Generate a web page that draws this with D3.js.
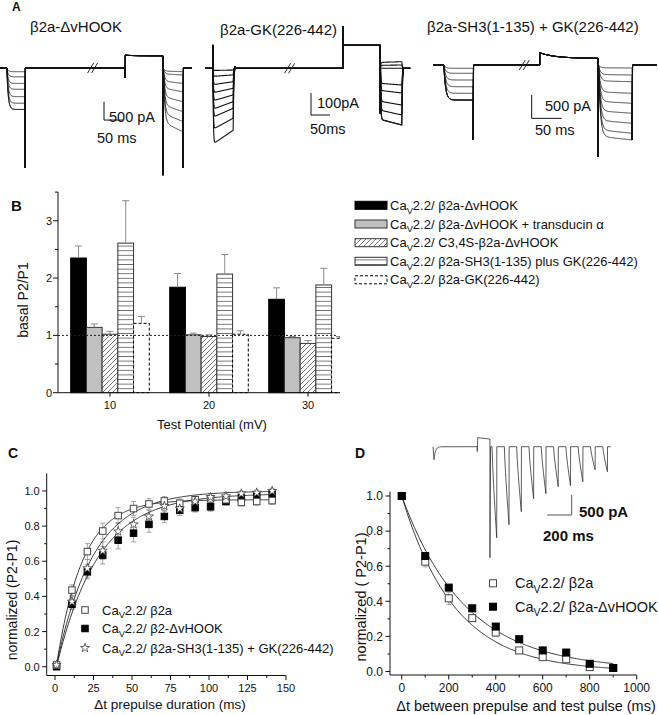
<!DOCTYPE html>
<html><head><meta charset="utf-8">
<script src="https://d3js.org/d3.v7.min.js"></script>
<style>
html,body{margin:0;padding:0;background:#fff;}
svg{display:block;}
</style></head>
<body>
<svg id="fig" width="658" height="715" xmlns="http://www.w3.org/2000/svg"></svg>
<script>
// ================= DATA =================
// ---- Panel A : example current families (pA, inward = positive) ----
const aTitles = ["β2a-ΔvHOOK", "β2a-GK(226-442)", "β2a-SH3(1-135) + GK(226-442)"];
const a1P1 = [100, 240, 420, 580, 780, 960, 1130];
const a1P2 = [100, 190, 420, 650, 920, 1190, 1460, 1740];
const a2P1 = [8, 30, 61, 91, 121, 152, 182, 227, 282];
const a2P2 = [-30, -15, 0, 76, 112, 167, 212, 258];
const a3P1 = [71, 178, 321, 465, 606, 750];
const a3P2 = [64, 214, 358, 606, 820, 1034, 1248, 1462, 1606];
// protocol times (ms): p1On, p1Off, break, preOn, preOff, p2Off, end
const a1Times = [18, 66, 245, 329, 429, 482, 505];
const a2Times = [21, 74, 224, 363, 461, 518, 540];
const a3Times = [18, 67, 153, 178, 275, 332, 373];
// transients (pA): p1 tail, prepulse start, prepulse end, p2 onset, p2 tail, prepulse onset spike
const a1Trans = [2720, -350, -330, 2920, 2720, 270];
const a2Trans = [0, -105, -105, 203, 0, -190];
const a3Trans = [1600, -263, -143, 1960, 1600, -263];
// scale bars [pA, ms]
const aScaleBars = [[500, 50], [100, 50], [500, 50]];
const aScaleLabels = [["500 pA", "50 ms"], ["100pA", "50ms"], ["500 pA", "50 ms"]];

// ---- Panel B ----
const bCategories = [10, 20, 30];
const bLegend = ["Ca_V2.2/ β2a-ΔvHOOK", "Ca_V2.2/ β2a-ΔvHOOK + transducin α", "Ca_V2.2/ C3,4S-β2a-ΔvHOOK",
                 "Ca_V2.2/ β2a-SH3(1-135) plus GK(226-442)", "Ca_V2.2/ β2a-GK(226-442)"];
const bHook = [2.35, 1.84, 1.63];
const bHookErr = [0.21, 0.24, 0.20];
const bTrans = [1.14, 1.01, 0.96];
const bTransErr = [0.06, 0.03, 0.02];
const bC34S = [1.02, 0.98, 0.86];
const bC34SErr = [0.05, 0.03, 0.05];
const bSH3GK = [2.61, 2.07, 1.88];
const bSH3GKErr = [0.74, 0.34, 0.29];
const bGK = [1.21, 1.02, 0.95];
const bGKErr = [0.12, 0.06, 0.03];
const bYTicks = [0, 1, 2, 3];

// ---- Panel C ----
const cTimes = [1, 11, 21, 31, 41, 51, 61, 71, 81, 91, 101, 111, 121, 131, 141];
const cB2a = [0.01, 0.436, 0.655, 0.772, 0.86, 0.90, 0.926, 0.943, 0.93, 0.95, 0.955, 0.95, 0.935, 0.94, 0.945];
const cB2aErr = [0.01, 0.03, 0.045, 0.045, 0.045, 0.04, 0.03, 0.025, 0.025, 0.02, 0.02, 0.02, 0.02, 0.02, 0.02];
const cHook = [0.0, 0.355, 0.54, 0.635, 0.72, 0.76, 0.81, 0.855, 0.89, 0.905, 0.91, 0.94, 0.96, 0.975, 0.985];
const cHookErr = [0.01, 0.03, 0.04, 0.05, 0.05, 0.05, 0.045, 0.035, 0.03, 0.025, 0.025, 0.02, 0.02, 0.02, 0.02];
const cSH3 = [0.01, 0.37, 0.56, 0.66, 0.77, 0.81, 0.855, 0.915, 0.90, 0.94, 0.965, 0.97, 0.985, 0.99, 1.0];
const cSH3Err = [0.01, 0.03, 0.05, 0.05, 0.05, 0.04, 0.035, 0.03, 0.025, 0.02, 0.02, 0.02, 0.015, 0.015, 0.015];
// mono-exponential fits: [offset, amplitude, tau(ms)]
const cFitB2a = [0.01, 0.94, 17];
const cFitHook = [0.0, 0.985, 27];
const cFitSH3 = [0.01, 0.99, 24];
const cLegend = ["Ca_V2.2/ β2a", "Ca_V2.2/ β2-ΔvHOOK", "Ca_V2.2/ β2a-SH3(1-135) + GK(226-442)"];
const cXTicks = [0, 25, 50, 75, 100, 125, 150];
const cYTicks = [0, 0.2, 0.4, 0.6, 0.8, 1.0];

// ---- Panel D ----
const dTimes = [0, 100, 200, 300, 400, 500, 600, 700, 800, 900];
const dB2a = [1.0, 0.626, 0.417, 0.304, 0.222, 0.12, 0.082, 0.07, 0.025, 0.02];
const dB2aErr = [0.01, 0.03, 0.035, 0.015, 0.02, 0.01, 0.01, 0.01, 0.01, 0.01];
const dHook = [1.0, 0.658, 0.478, 0.36, 0.256, 0.184, 0.12, 0.108, 0.044, 0.02];
const dFitB2a = [0.0, 1.0, 225];
const dFitHook = [0.01, 0.99, 270];
const dLegend = ["Ca_V2.2/ β2a", "Ca_V2.2/ β2a-ΔvHOOK"];
const dXTicks = [0, 200, 400, 600, 800, 1000];
const dYTicks = [0, 0.2, 0.4, 0.6, 0.8, 1.0];
// inset: test-pulse tail amplitudes (pA) and timing (ms)
const insetTestPeaks = [2275, 1950, 1625, 1300, 1175, 1000, 975, 875, 575, 625];
const insetTimes = [0, 360, 463, 518, 100, 38]; // p1, preOn, preOff, first test, interval, test duration
const insetTrans = [325, -225, 2775];            // p1 peak, prepulse level, prepulse-end transient

// ================= DRAW =================
const svg = d3.select("#fig");
const FONT = '"Liberation Sans", Arial, Helvetica, sans-serif';
svg.append("rect").attr("width", 658).attr("height", 715).attr("fill", "#fff");

function label(g, x, y, s, size, o = {}) {
  const t = g.append("text").attr("x", x).attr("y", y)
    .attr("font-family", FONT).attr("font-size", size).attr("fill", o.fill || "#111");
  if (o.anchor) t.attr("text-anchor", o.anchor);
  if (o.weight) t.attr("font-weight", o.weight);
  if (o.rotate) t.attr("transform", `rotate(-90 ${x} ${y})`);
  const parts = s.split("_V");
  t.append("tspan").text(parts[0]);
  for (let i = 1; i < parts.length; i++) {
    t.append("tspan").attr("font-size", size * 0.72).attr("dy", size * 0.3).text("V");
    t.append("tspan").attr("dy", -size * 0.3).text(parts[i]);
  }
  return t;
}

// Panel letters
label(svg, 12, 11, "A", 12, { weight: "bold" });
label(svg, 11, 211, "B", 15, { weight: "bold" });
label(svg, 8, 458, "C", 14, { weight: "bold" });
label(svg, 355, 458, "D", 14, { weight: "bold" });

// ---------------- Panel A ----------------
const aGeom = [
  { x0: 0, pxms: 0.38, base: 68, pxpa: 0.0367, tau: 3.5, s1: 0, s2: 0.15, sw: 0.8, titleX: 30, titleY: 32 },
  { x0: 205, pxms: 0.38, base: 68.3, pxpa: 0.22, tau: 1.0, s1: -0.22, s2: 0.1, sw: 1.1, titleX: 220, titleY: 35 },
  { x0: 433, pxms: 0.6, base: 65, pxpa: 0.0467, tau: 3.0, s1: 0, s2: 0.05, sw: 0.8, titleX: 427, titleY: 32 }
];
const aData = [
  { P1: a1P1, P2: a1P2, T: a1Times, tr: a1Trans },
  { P1: a2P1, P2: a2P2, T: a2Times, tr: a2Trans },
  { P1: a3P1, P2: a3P2, T: a3Times, tr: a3Trans }
];
const aBars = [
  { vx: 104, vy0: 101.7, lx: 109, ly1: 121.5, lx2: 97, ly2: 143 },
  { vx: 311, vy0: 93, lx: 317, ly1: 108, lx2: 310, ly2: 134 },
  { vx: 531.7, vy0: 95, lx: 545, ly1: 111, lx2: 535, ly2: 135 }
];

function activation(L, tOn, tOff, tau, slope, step) {
  const pts = [];
  for (let t = tOn; t <= tOff + 1e-6; t += step) {
    const f = (t - tOn) / (tOff - tOn);
    const fac = 1 + slope * (f - 1);
    pts.push([t, L * fac * (1 - Math.exp(-(t - tOn) / tau))]);
  }
  return pts;
}

aData.forEach((d, gi) => {
  const G = aGeom[gi];
  const [p1On, p1Off, brk, preOn, preOff, p2Off, tEnd] = d.T;
  const xs = d3.scaleLinear().domain([0, 1]).range([G.x0, G.x0 + G.pxms]);
  const ys = d3.scaleLinear().domain([0, 1]).range([G.base, G.base + G.pxpa]);
  const line = d3.line().x(p => xs(p[0])).y(p => ys(p[1]));
  const g = svg.append("g");
  const n = Math.max(d.P1.length, d.P2.length);
  for (let k = 0; k < n; k++) {
    const L1 = d.P1[Math.min(k, d.P1.length - 1)];
    const L2 = d.P2[Math.min(k, d.P2.length - 1)];
    let pts = [[0, 0], [p1On, 0]];
    if (gi === 1) pts.push([p1On, -105], [p1On + 0.8, 0]);
    pts = pts.concat(activation(L1, p1On, p1Off, G.tau, G.s1, 0.5));
    if (d.tr[0] !== 0) pts.push([p1Off, d.tr[0]], [p1Off + 0.6, 0]);
    else pts.push([p1Off + 2, L1 * 0.2], [p1Off + 5, -8], [p1Off + 9, 0]);
    pts.push([preOn, 0], [preOn, d.tr[5]], [preOn + 0.6, d.tr[1]]);
    const np = 20;
    for (let i = 1; i <= np; i++) {
      const t = preOn + (preOff - preOn) * i / np;
      const w = Math.exp(-(t - preOn) / 25);
      pts.push([t, d.tr[2] + (d.tr[1] - d.tr[2]) * w]);
    }
    pts.push([preOff, d.tr[3]], [preOff + 0.8, 0]);
    pts = pts.concat(activation(L2, preOff + 0.8, p2Off, G.tau, G.s2, 0.5));
    if (d.tr[4] !== 0) pts.push([p2Off, d.tr[4]], [p2Off + 0.6, 0]);
    else pts.push([p2Off + 2, L2 * 0.2], [p2Off + 4, 0]);
    pts.push([tEnd, 0]);
    g.append("path").attr("d", line(pts)).attr("fill", "none")
      .attr("stroke", "#111").attr("stroke-width", G.sw).attr("stroke-linejoin", "round");
  }
  // break mark
  const bx0 = xs(brk), by0 = G.base;
  [-2.5, 1.5].forEach(o => g.append("line")
    .attr("x1", bx0 + o - 3).attr("y1", by0 + 5).attr("x2", bx0 + o + 3).attr("y2", by0 - 5)
    .attr("stroke", "#111").attr("stroke-width", 0.9));
  // title
  label(svg, G.titleX, G.titleY, aTitles[gi], 15);
  // scale bar
  const SB = aBars[gi];
  const [sbPa, sbMs] = aScaleBars[gi];
  const vLen = ys(sbPa) - ys(0), hLen = xs(sbMs) - xs(0);
  const yb = SB.vy0 + vLen;
  g.append("path").attr("d", `M${SB.vx},${SB.vy0}V${yb}H${SB.vx + hLen}`)
    .attr("fill", "none").attr("stroke", "#111").attr("stroke-width", 1);
  label(svg, SB.lx, SB.ly1, aScaleLabels[gi][0], 14.5);
  label(svg, SB.lx2, SB.ly2, aScaleLabels[gi][1], 14.5);
});

// ---------------- Panel B ----------------
const defs = svg.append("defs");
const pd = defs.append("pattern").attr("id", "diag").attr("patternUnits", "userSpaceOnUse")
  .attr("width", 5).attr("height", 5);
pd.append("rect").attr("width", 5).attr("height", 5).attr("fill", "#fff");
pd.append("path").attr("d", "M-1,1 L1,-1 M0,5 L5,0 M4,6 L6,4").attr("stroke", "#555").attr("stroke-width", 0.8);
const ph = defs.append("pattern").attr("id", "horiz").attr("patternUnits", "userSpaceOnUse")
  .attr("width", 10).attr("height", 4.6);
ph.append("rect").attr("width", 10).attr("height", 4.6).attr("fill", "#fff");
ph.append("line").attr("x1", 0).attr("x2", 10).attr("y1", 2.3).attr("y2", 2.3).attr("stroke", "#666").attr("stroke-width", 0.9);
defs.append("clipPath").attr("id", "bclip").append("rect").attr("x", 58).attr("y", 150).attr("width", 282).attr("height", 260);

const bx = d3.scaleLinear().domain([4.75, 33.23]).range([58, 340]);
const by = d3.scaleLinear().domain([0, 3.5]).range([392.7, 192.1]);
const bSeries = [
  { v: bHook, e: bHookErr, fill: "#000", stroke: "#000", dash: null },
  { v: bTrans, e: bTransErr, fill: "#c0c0c0", stroke: "#333", dash: null },
  { v: bC34S, e: bC34SErr, fill: "url(#diag)", stroke: "#333", dash: null },
  { v: bSH3GK, e: bSH3GKErr, fill: "url(#horiz)", stroke: "#333", dash: null },
  { v: bGK, e: bGKErr, fill: "#fff", stroke: "#000", dash: "3,2" }
];
const band = d3.scaleBand().domain(d3.range(bSeries.length)).range([-39.3, 39.3]).padding(0);
const gB = svg.append("g").attr("clip-path", "url(#bclip)");
bSeries.forEach((s, si) => {
  bCategories.forEach((c, ci) => {
    const x = bx(c) + band(si), w = band.bandwidth();
    gB.append("rect").attr("x", x).attr("y", by(s.v[ci])).attr("width", w)
      .attr("height", by(0) - by(s.v[ci])).attr("fill", s.fill).attr("stroke", s.stroke)
      .attr("stroke-width", 1).attr("stroke-dasharray", s.dash);
  });
});
// reference line
gB.append("line").attr("x1", 58).attr("x2", 338).attr("y1", by(1)).attr("y2", by(1))
  .attr("stroke", "#222").attr("stroke-width", 1).attr("stroke-dasharray", "2,2");
// error bars
bSeries.forEach((s, si) => {
  bCategories.forEach((c, ci) => {
    const xc = bx(c) + band(si) + band.bandwidth() / 2;
    const y0 = by(s.v[ci]), y1 = by(s.v[ci] + s.e[ci]);
    gB.append("path").attr("d", `M${xc},${y0}V${y1}M${xc - 3.5},${y1}H${xc + 3.5}`)
      .attr("stroke", "#8a8a8a").attr("stroke-width", 1).attr("fill", "none");
  });
});
// axes B
const axB = svg.append("g").attr("stroke", "#111").attr("stroke-width", 1);
axB.append("line").attr("x1", 58).attr("x2", 58).attr("y1", by(3.5)).attr("y2", by(0));
axB.append("line").attr("x1", 58).attr("x2", 340).attr("y1", by(0)).attr("y2", by(0));
d3.range(0, 3.51, 0.5).forEach(v => {
  const major = Math.abs(v - Math.round(v)) < 1e-6;
  axB.append("line").attr("x1", 58 - (major ? 5 : 3)).attr("x2", 58).attr("y1", by(v)).attr("y2", by(v));
});
bYTicks.forEach(v => label(svg, 52, by(v) + 4, String(v), 11, { anchor: "end" }));
bCategories.forEach(c => {
  axB.append("line").attr("x1", bx(c)).attr("x2", bx(c)).attr("y1", by(0)).attr("y2", by(0) + 4);
  label(svg, bx(c), by(0) + 16, String(c), 11, { anchor: "middle" });
});
label(svg, 212, 429, "Test Potential (mV)", 13, { anchor: "middle" });
label(svg, 28, 300, "basal P2/P1", 14, { anchor: "middle", rotate: true });
// legend B
const legYs = [205.3, 224, 242.7, 261.3, 279.8];
bSeries.forEach((s, i) => {
  svg.append("rect").attr("x", 355).attr("y", legYs[i] - 4).attr("width", 32).attr("height", 8)
    .attr("fill", s.fill).attr("stroke", s.stroke).attr("stroke-width", 1).attr("stroke-dasharray", s.dash);
  label(svg, 390, legYs[i] + 4.5, bLegend[i], 13);
});

// ---------------- generic scatter axes ----------------
function drawAxes(x, y, xTicks, yTicks, xMinor, yMinor, fs, fmtY) {
  const g = svg.append("g").attr("stroke", "#111").attr("stroke-width", 1);
  const [x0, x1] = x.range(), [y0, y1] = y.range();
  g.append("line").attr("x1", x0).attr("x2", x0).attr("y1", y0).attr("y2", y1);
  g.append("line").attr("x1", x0).attr("x2", x1).attr("y1", y0).attr("y2", y0);
  xMinor.forEach(v => g.append("line").attr("x1", x(v)).attr("x2", x(v)).attr("y1", y0).attr("y2", y0 + 2.5));
  yMinor.forEach(v => g.append("line").attr("x1", x0 - 2.5).attr("x2", x0).attr("y1", y(v)).attr("y2", y(v)));
  xTicks.forEach(v => {
    g.append("line").attr("x1", x(v)).attr("x2", x(v)).attr("y1", y0).attr("y2", y0 + 4.5);
    label(svg, x(v), y0 + 5 + fs, String(v), fs, { anchor: "middle" });
  });
  yTicks.forEach(v => {
    g.append("line").attr("x1", x0 - 4.5).attr("x2", x0).attr("y1", y(v)).attr("y2", y(v));
    label(svg, x0 - 7, y(v) + fs * 0.36, fmtY(v), fs, { anchor: "end" });
  });
}
function fitLine(x, y, p, t0, t1, rising) {
  const pts = d3.range(t0, t1 + 0.01, (t1 - t0) / 200).map(t => {
    const e = Math.exp(-(t - t0) / p[2]);
    return [t, rising ? p[0] + p[1] * (1 - e) : p[0] + p[1] * e];
  });
  return d3.line().x(d => x(d[0])).y(d => y(d[1]))(pts);
}
function sq(g, cx, cy, s, filled) {
  g.append("rect").attr("x", cx - s / 2).attr("y", cy - s / 2).attr("width", s).attr("height", s)
    .attr("fill", filled ? "#000" : "#fff").attr("stroke", filled ? "#000" : "#444").attr("stroke-width", 1);
}
function star(g, cx, cy) {
  g.append("path").attr("d", d3.symbol().type(d3.symbolStar).size(26)())
    .attr("transform", `translate(${cx},${cy})`).attr("fill", "#fff").attr("stroke", "#444").attr("stroke-width", 0.8);
}
function errBar(g, x, y, t, v, e, cap) {
  const xc = x(t);
  g.append("path").attr("d", `M${xc},${y(v - e)}V${y(v + e)}M${xc - cap},${y(v - e)}H${xc + cap}M${xc - cap},${y(v + e)}H${xc + cap}`)
    .attr("stroke", "#999").attr("stroke-width", 0.9).attr("fill", "none");
}

// ---------------- Panel C ----------------
const cx = d3.scaleLinear().domain([-5.4, 150]).range([46.7, 286]);
const cy = d3.scaleLinear().domain([-0.05, 1.1]).range([675.5, 473.4]);
drawAxes(cx, cy, cXTicks, cYTicks, [12.5, 37.5, 62.5, 87.5, 112.5, 137.5], [0.1, 0.3, 0.5, 0.7, 0.9], 11, v => v.toFixed(1));
const gC = svg.append("g");
cTimes.forEach((t, i) => {
  errBar(gC, cx, cy, t, cB2a[i], cB2aErr[i], 2.5);
  errBar(gC, cx, cy, t, cHook[i], cHookErr[i], 2.5);
  errBar(gC, cx, cy, t, cSH3[i], cSH3Err[i], 2.5);
});
[cFitB2a, cFitHook, cFitSH3].forEach(p => gC.append("path").attr("d", fitLine(cx, cy, p, 1, 141, true))
  .attr("fill", "none").attr("stroke", "#222").attr("stroke-width", 0.9));
cTimes.forEach((t, i) => {
  sq(gC, cx(t), cy(cHook[i]), 6.5, true);
  sq(gC, cx(t), cy(cB2a[i]), 6.5, false);
  star(gC, cx(t), cy(cSH3[i]));
});
const cLegY = [610, 628.5, 648];
sq(svg, 85, cLegY[0], 6.5, false);
sq(svg, 85, cLegY[1], 6.5, true);
star(svg, 85, cLegY[2]);
cLegend.forEach((s, i) => label(svg, 102, cLegY[i] + 4.5, s, 13));
label(svg, 170, 709, "Δt prepulse duration (ms)", 13.5, { anchor: "middle" });
label(svg, 17, 600, "normalized (P2-P1)", 14, { anchor: "middle", rotate: true });

// ---------------- Panel D ----------------
const dx = d3.scaleLinear().domain([-50, 1000]).range([390, 636.7]);
const dy = d3.scaleLinear().domain([-0.02, 1.025]).range([675, 491.6]);
drawAxes(dx, dy, dXTicks, dYTicks, [100, 300, 500, 700, 900], [0.1, 0.3, 0.5, 0.7, 0.9], 12, v => v.toFixed(1));
const gD = svg.append("g");
dTimes.forEach((t, i) => errBar(gD, dx, dy, t, dB2a[i], dB2aErr[i], 2.5));
gD.append("path").attr("d", fitLine(dx, dy, dFitB2a, 0, 900, false)).attr("fill", "none").attr("stroke", "#222").attr("stroke-width", 0.9);
gD.append("path").attr("d", fitLine(dx, dy, dFitHook, 0, 900, false)).attr("fill", "none").attr("stroke", "#222").attr("stroke-width", 0.9);
dTimes.forEach((t, i) => {
  sq(gD, dx(t), dy(dB2a[i]), 7, false);
  sq(gD, dx(t), dy(dHook[i]), 7, true);
});
const dLegY = [583.3, 606.7];
sq(svg, 493, dLegY[0], 7, false);
sq(svg, 493, dLegY[1], 7, true);
dLegend.forEach((s, i) => label(svg, 515, dLegY[i] + 5, s, 14.5));
label(svg, 526, 711, "Δt between prepulse and test pulse (ms)", 14.5, { anchor: "middle" });
label(svg, 366, 597, "normalized ( P2-P1)", 14.5, { anchor: "middle", rotate: true });

// inset trace
{
  const ix = d3.scaleLinear().domain([0, 1]).range([433, 433.123]);
  const iy = d3.scaleLinear().domain([0, 1]).range([446.7, 446.74]);
  const [tP1, tPreOn, tPreOff, tTest0, tInt, tDur] = insetTimes;
  let pts = [[tP1, 0], [tP1 + 8, insetTrans[0]]];
  for (let t = 10; t <= 70; t += 5) pts.push([tP1 + t, insetTrans[0] * Math.exp(-(t - 8) / 12)]);
  pts.push([tPreOn, 0], [tPreOn, 120], [tPreOn + 4, insetTrans[1]], [tPreOff, insetTrans[1] * 0.85],
           [tPreOff, insetTrans[2]], [tPreOff + 5, 0]);
  insetTestPeaks.forEach((pk, k) => {
    const t0 = tTest0 - tDur + k * tInt;
    pts.push([t0, 0]);
    for (let j = 1; j <= 8; j++) {
      const f = j / 8;
      pts.push([t0 + tDur * f, pk * Math.pow(f, 0.8)]);
    }
    pts.push([t0 + tDur + 1, 0]);
  });
  pts.push([1445, 0]);
  const line = d3.line().x(p => ix(p[0])).y(p => iy(p[1]));
  svg.append("path").attr("d", line(pts)).attr("fill", "none").attr("stroke", "#333").attr("stroke-width", 0.8);
  // scale bar: 500 pA, 200 ms
  const vLen = iy(500) - iy(0), hLen = ix(200) - ix(0);
  svg.append("path").attr("d", `M571.7,495V${495 + vLen}H${571.7 - hLen}`).attr("fill", "none").attr("stroke", "#555").attr("stroke-width", 1);
  label(svg, 579, 517, "500 pA", 15, { weight: "bold" });
  label(svg, 543, 541, "200 ms", 15, { weight: "bold" });
}
</script>
</body></html>
